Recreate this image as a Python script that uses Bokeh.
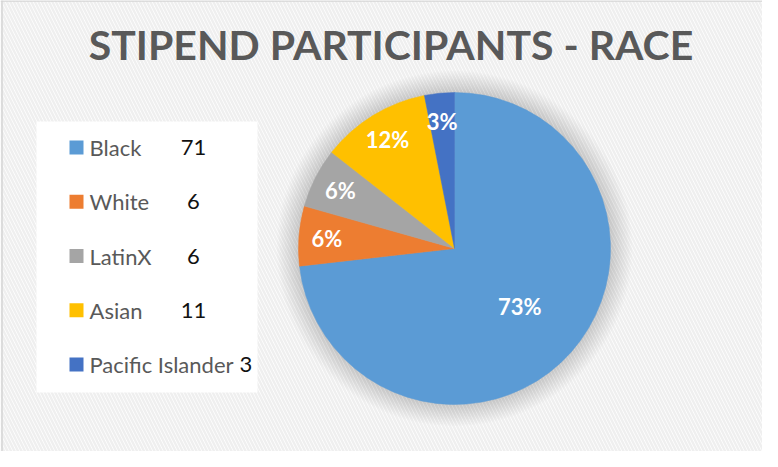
from bokeh.plotting import figure
from bokeh.models import Range1d, ColumnDataSource
from bokeh.core.properties import value
from bokeh.embed import file_html
from bokeh.resources import INLINE
import numpy as np

# ---- data ----
categories = ["Black", "White", "LatinX", "Asian", "Pacific Islander"]
counts = [71, 6, 6, 11, 3]
pct_labels = ["73%", "6%", "6%", "12%", "3%"]
colors = ["#5B9BD5", "#ED7D31", "#A5A5A5", "#FFC000", "#4472C4"]
title_text = "STIPEND PARTICIPANTS - RACE"

# ---- layout (screen pixel coordinates of the 778x467 window) ----
W, H = 762, 451
FONT = "Lato"


def Y(sy):
    return 467 - sy


p = figure(width=W, height=H, x_range=Range1d(8, 770), y_range=Range1d(8, 459),
           output_backend="svg", toolbar_location=None, min_border=0)
p.axis.visible = False
p.grid.visible = False
p.outline_line_color = None
p.background_fill_color = "white"
p.border_fill_color = "white"

# striped chart background
p.quad(left=8, right=770, bottom=8, top=459, fill_color="#ffffff", line_color=None,
       hatch_pattern="\\", hatch_color="#efefef", hatch_weight=2.5, hatch_scale=7)
# chart frame
p.line([9.5, 9.5], [8, 459], line_color="#d4d4d4", line_width=1.5)
p.line([8, 770], [458.5, 458.5], line_color="#d4d4d4", line_width=1.5)

# title
p.text(x=[398.5], y=[Y(52)], text=[title_text], text_font=value(FONT),
       text_font_style="bold", text_font_size="41px", text_color="#595959",
       text_align="center", text_baseline="middle")

# pie geometry
cx, cy, R = 462, Y(256), 156
vals = np.array(counts, dtype=float)
frac = vals / vals.sum()
c1 = np.cumsum(frac)
c0 = c1 - frac
start = np.pi / 2 - 2 * np.pi * c0
end = np.pi / 2 - 2 * np.pi * c1

# soft shadow around pie
for k in range(14):
    p.circle(x=[cx], y=[cy], radius=R + 1 + 1.6 * k, fill_color="#000000",
             fill_alpha=0.010, line_color=None)

src = ColumnDataSource(dict(start=start, end=end, color=colors))
p.wedge(x=cx, y=cy, radius=R, start_angle="start", end_angle="end", direction="clock",
        fill_color="color", line_color="color", line_width=0.5, source=src)

mid = (start + end) / 2
rr = np.where(frac > 0.5, 0.56 * R, 0.82 * R)
lx = cx + rr * np.cos(mid)
ly = cy + rr * np.sin(mid)
p.text(x=lx, y=ly, text=pct_labels, text_font=value(FONT), text_font_style="bold",
       text_font_size="22px", text_color="white", text_align="center", text_baseline="middle")

# legend box
p.quad(left=44, right=265, top=Y(129), bottom=Y(400), fill_color="white", line_color=None)
n = len(categories)
idx = np.arange(n)
row_mid = 155 + idx * 54.25
p.rect(x=84, y=Y(row_mid), width=14, height=14, fill_color=colors, line_color=None)
p.text(x=97, y=Y(row_mid), text=categories, text_font=value(FONT),
       text_font_size="22px", text_color="#595959", text_align="left", text_baseline="middle")

short = [i for i in range(n) if len(categories[i]) <= 10]
longi = [i for i in range(n) if len(categories[i]) > 10]
p.text(x=[201] * len(short), y=[Y(row_mid[i]) for i in short], text=[str(counts[i]) for i in short],
       text_font=value(FONT), text_font_size="22px", text_color="#111111",
       text_align="center", text_baseline="middle")
p.text(x=[247] * len(longi), y=[Y(row_mid[i]) for i in longi], text=[str(counts[i]) for i in longi],
       text_font=value(FONT), text_font_size="22px", text_color="#111111",
       text_align="left", text_baseline="middle")

open("out.html", "w").write(file_html(p, INLINE))
